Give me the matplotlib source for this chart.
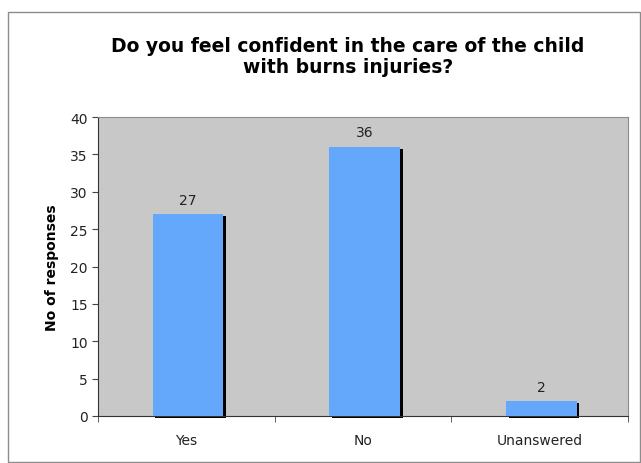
import numpy as np
import matplotlib.pyplot as plt
from matplotlib.patches import Rectangle

categories = ["Yes", "No", "Unanswered"]
responses = [27, 36, 2]
y_ticks = [0, 5, 10, 15, 20, 25, 30, 35, 40]

fig = plt.figure(figsize=(6.41, 4.64), dpi=100)
fig.patch.set_facecolor("white")

# outer chart frame
fig.patches.append(Rectangle((8 / 641, 0.002), 632 / 641, 1 - 13 / 464 - 0.002,
                             transform=fig.transFigure, fill=False,
                             edgecolor="#8c8c8c", linewidth=1.0))

ax = fig.add_axes([98 / 641, 1 - 417 / 464, 530 / 641, 299 / 464])
ax.set_facecolor("#c8c8c8")

x = np.arange(len(categories))
width = 0.4

# shadow behind bars
ax.bar(x + 0.025, responses, width, bottom=-0.25, color="black", zorder=2, clip_on=False)
ax.bar(x + 0.01, responses, width, color="#63a8fa", zorder=3)

for xi, v in zip(x, responses):
    ax.text(xi + 0.01, v + 1.0, str(v), ha="center", va="bottom", fontsize=10, color="#222222")

ax.set_xlim(-0.5, len(categories) - 0.5)
ax.set_ylim(0, 40)
ax.set_yticks(y_ticks)
ax.set_yticklabels([str(t) for t in y_ticks], fontsize=10, color="#222222")

ax.set_xticks(x)
ax.set_xticklabels(categories, fontsize=10, color="#222222")
ax.tick_params(axis="x", length=0, pad=12)
ax.set_xticks(np.arange(-0.5, len(categories), 1.0), minor=True)
ax.tick_params(axis="x", which="minor", length=4, color="#444444", direction="out")
ax.tick_params(axis="y", length=4, color="#444444", direction="out")

for side in ["top", "right"]:
    ax.spines[side].set_color("#8c8c8c")
for side in ["left", "bottom"]:
    ax.spines[side].set_color("#333333")

ax.set_ylabel("No of responses", fontsize=10, fontweight="bold", labelpad=8)
fig.text(0.543, 1 - 57 / 464,
         "Do you feel confident in the care of the child\nwith burns injuries?",
         ha="center", va="center", fontsize=13.5, fontweight="bold", linespacing=1.15)

fig.savefig("out.png", dpi=100)
